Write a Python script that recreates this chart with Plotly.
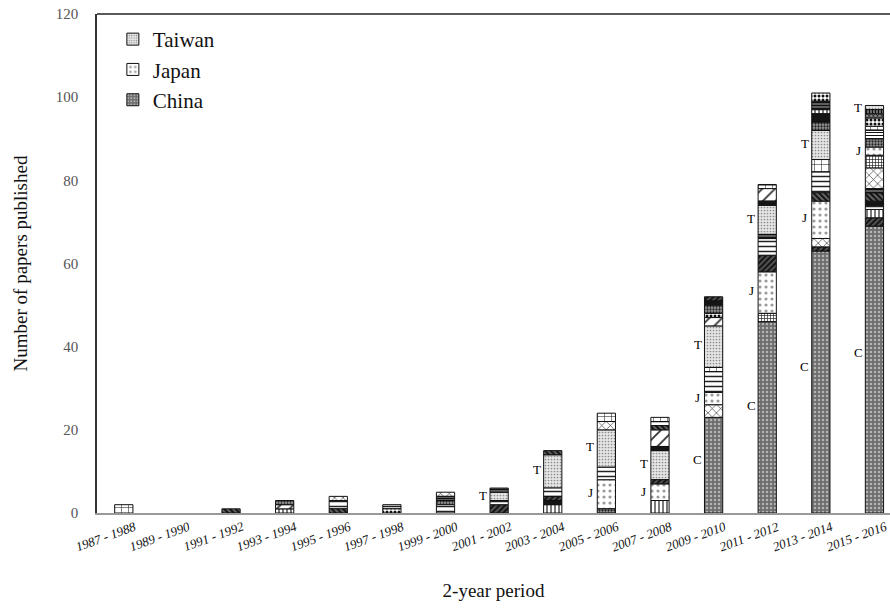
import plotly.graph_objects as go

# ---------------- data ----------------
periods = ["1987 - 1988", "1989 - 1990", "1991 - 1992", "1993 - 1994", "1995 - 1996",
           "1997 - 1998", "1999 - 2000", "2001 - 2002", "2003 - 2004", "2005 - 2006",
           "2007 - 2008", "2009 - 2010", "2011 - 2012", "2013 - 2014", "2015 - 2016"]

china  = [0, 0, 0, 0, 0, 0, 0, 0, 0, 0, 0, 23, 46, 63, 69]
japan  = [0, 0, 0, 0, 0, 0, 0, 0, 0, 7, 4, 3, 10, 9, 2]
taiwan = [0, 0, 0, 0, 0, 0, 0, 2, 8, 9, 7, 10, 7, 7, 1]

# other countries (not named in the legend)
other_a = [2, 0, 0, 0, 0, 0, 0, 0, 0, 2, 1, 1, 1, 3, 1]
other_b = [0, 0, 0, 0, 0, 0, 0, 2, 1, 0, 1, 1, 4, 1, 2]
other_c = [0, 0, 0, 1, 0, 0, 0, 0, 2, 0, 3, 0, 0, 1, 2]
other_d = [0, 0, 0, 1, 0, 0, 0, 0, 0, 0, 4, 2, 3, 0, 0]
other_e = [0, 0, 0, 1, 0, 0, 1, 0, 0, 1, 0, 2, 0, 2, 2]
other_f = [0, 0, 0, 0, 2, 1, 2, 1, 2, 3, 1, 5, 4, 5, 1]
other_g = [0, 0, 0, 0, 1, 0, 1, 0, 0, 2, 0, 3, 0, 2, 5]
other_h = [0, 0, 0, 0, 0, 0, 0, 0, 1, 0, 1, 1, 1, 2, 1]
other_i = [0, 0, 0, 0, 0, 0, 0, 0, 0, 0, 0, 0, 2, 0, 3]
other_k = [0, 0, 0, 0, 0, 1, 0, 0, 0, 0, 0, 1, 0, 2, 2]
other_l = [0, 0, 1, 0, 1, 0, 0, 0, 1, 0, 1, 0, 0, 2, 2]
other_m = [0, 0, 0, 0, 0, 0, 1, 1, 0, 0, 0, 0, 1, 2, 1]
other_n = [0, 0, 0, 0, 0, 0, 0, 0, 0, 0, 0, 0, 0, 0, 2]
other_o = [0, 0, 0, 0, 0, 0, 0, 0, 0, 0, 0, 0, 0, 0, 1]
other_p = [0, 0, 0, 0, 0, 0, 0, 0, 0, 0, 0, 0, 0, 0, 1]

# stacking order inside each bar, bottom to top
stack_order = [
    ["A"], [], ["L"], ["C2", "D", "E"], ["L", "F", "G"], ["K", "F"],
    ["F", "E", "M", "G"], ["B", "F", "TW", "M"],
    ["C2", "H", "B", "F", "TW", "L"],
    ["E", "JP", "F", "TW", "G", "A"],
    ["C2", "JP", "B", "TW", "H", "D", "L", "F", "A"],
    ["CN", "G", "JP", "F", "A", "TW", "D", "K", "E", "H", "B"],
    ["CN", "I", "JP", "B", "F", "M", "TW", "H", "D", "A"],
    ["CN", "B", "G", "JP", "L", "F", "A", "TW", "E", "H", "C2", "M", "K"],
    ["CN", "B", "C2", "F", "H", "L", "M", "G", "I", "JP", "E", "N", "A", "K", "O", "P", "TW"],
]

label_letters = {"CN": "C", "JP": "J", "TW": "T"}

# ---------------- styles ----------------
series = {
    "TW": ("Taiwan", taiwan, dict(bg="#e6e6e6", fg="#8c8c8c", shape=".", size=3, sol=0.25)),
    "JP": ("Japan", japan, dict(bg="#ffffff", fg="#9a9a9a", shape=".", size=6, sol=0.22)),
    "CN": ("China", china, dict(bg="#6e6e6e", fg="#b4b4b4", shape=".", size=4, sol=0.3)),
    "A":  ("Other A", other_a, dict(bg="#ffffff", fg="#222222", shape="+", size=7, sol=0.15)),
    "B":  ("Other B", other_b, dict(bg="#555555", fg="#111111", shape="/", size=4, sol=0.5)),
    "C2": ("Other C", other_c, dict(bg="#ffffff", fg="#222222", shape="|", size=4, sol=0.3)),
    "D":  ("Other D", other_d, dict(bg="#ffffff", fg="#333333", shape="/", size=9, sol=0.2)),
    "E":  ("Other E", other_e, dict(bg="#9a9a9a", fg="#222222", shape=".", size=3, sol=0.45)),
    "F":  ("Other F", other_f, dict(bg="#ffffff", fg="#222222", shape="-", size=5, sol=0.3)),
    "G":  ("Other G", other_g, dict(bg="#ffffff", fg="#333333", shape="x", size=6, sol=0.2)),
    "H":  ("Other H", other_h, dict(bg="#151515", fg="#151515", shape="", size=4, sol=0.3)),
    "I":  ("Other I", other_i, dict(bg="#ffffff", fg="#222222", shape="+", size=3, sol=0.4)),
    "K":  ("Other K", other_k, dict(bg="#ffffff", fg="#111111", shape=".", size=4, sol=0.45)),
    "L":  ("Other L", other_l, dict(bg="#666666", fg="#111111", shape="\\", size=4, sol=0.5)),
    "M":  ("Other M", other_m, dict(bg="#777777", fg="#111111", shape="-", size=3, sol=0.5)),
    "N":  ("Other N", other_n, dict(bg="#ffffff", fg="#111111", shape="-", size=3, sol=0.35)),
    "O":  ("Other O", other_o, dict(bg="#888888", fg="#111111", shape="x", size=3, sol=0.4)),
    "P":  ("Other P", other_p, dict(bg="#888888", fg="#111111", shape="|", size=3, sol=0.5)),
}

# compute bases from the stacking order
bases = {k: [0] * len(periods) for k in series}
for i, order in enumerate(stack_order):
    cum = 0
    for k in order:
        bases[k][i] = cum
        cum += series[k][1][i]

FONT = "Liberation Serif"
BAR_W = 0.34

fig = go.Figure()
for k in ["TW", "JP", "CN"] + [k for k in series if k not in ("TW", "JP", "CN")]:
    name, vals, st = series[k]
    xs = [p for p, v in zip(periods, vals) if v > 0]
    ys = [v for v in vals if v > 0]
    bs = [b for b, v in zip(bases[k], vals) if v > 0]
    fig.add_trace(go.Bar(
        name=name, x=xs, y=ys, base=bs, width=BAR_W,
        showlegend=k in ("TW", "JP", "CN"),
        marker=dict(
            color=st["bg"],
            line=dict(color="#111111", width=1),
            pattern=dict(shape=st["shape"], fgcolor=st["fg"], fgopacity=1,
                         size=st["size"], solidity=st["sol"], fillmode="overlay"),
        ),
    ))

# letter labels C / J / T next to the segments
annotations = []
for k, letter in label_letters.items():
    vals = series[k][1]
    for i, v in enumerate(vals):
        if v > 0:
            annotations.append(dict(
                x=periods[i], y=bases[k][i] + 0.56 * v, text=letter,
                showarrow=False, xshift=-16, xanchor="center", yanchor="middle",
                font=dict(family=FONT, size=13, color="#000000")))

# rotated category labels under each bar
for p in periods:
    annotations.append(dict(
        x=p, xref="x", y=0, yref="paper", text=p, textangle=-20,
        showarrow=False, xanchor="center", yanchor="middle", yshift=-23, xshift=-18,
        font=dict(family=FONT, size=13, color="#111111", style="italic")))

fig.update_layout(
    width=890, height=613,
    margin=dict(l=97, r=0, t=14, b=100),
    barmode="overlay",
    plot_bgcolor="white", paper_bgcolor="white",
    font=dict(family=FONT, color="#111111"),
    legend=dict(x=0.02, y=0.99, xanchor="left", yanchor="top",
                font=dict(family=FONT, size=21, color="#111111"),
                bgcolor="rgba(0,0,0,0)", traceorder="normal", itemwidth=30),
    annotations=annotations,
    shapes=[dict(type="line", xref="paper", yref="paper", x0=0, x1=1, y0=1, y1=1,
                 line=dict(color="#222222", width=1.5))],
    xaxis=dict(
        categoryorder="array", categoryarray=periods,
        range=[-0.5, 14.29],
        showline=True, linecolor="#999999", linewidth=2,
        ticks="", showticklabels=False,
        title=dict(text="2-year period", font=dict(family=FONT, size=19, color="#111111"),
                   standoff=70),
        showgrid=False, zeroline=False,
    ),
    yaxis=dict(
        range=[0, 120], dtick=20,
        showline=True, linecolor="#333333", linewidth=1.5,
        ticks="", ticklabelstandoff=14, ticklabeloverflow="allow",
        tickfont=dict(family=FONT, size=15, color="#555555"),
        title=dict(text="Number of papers published",
                   font=dict(family=FONT, size=19, color="#111111"), standoff=23),
        showgrid=False, zeroline=False,
    ),
)

fig.write_html(
    "out.html",
    config={"displayModeBar": False},
    post_script="document.body.style.margin='0px';document.body.style.overflow='hidden';",
)
